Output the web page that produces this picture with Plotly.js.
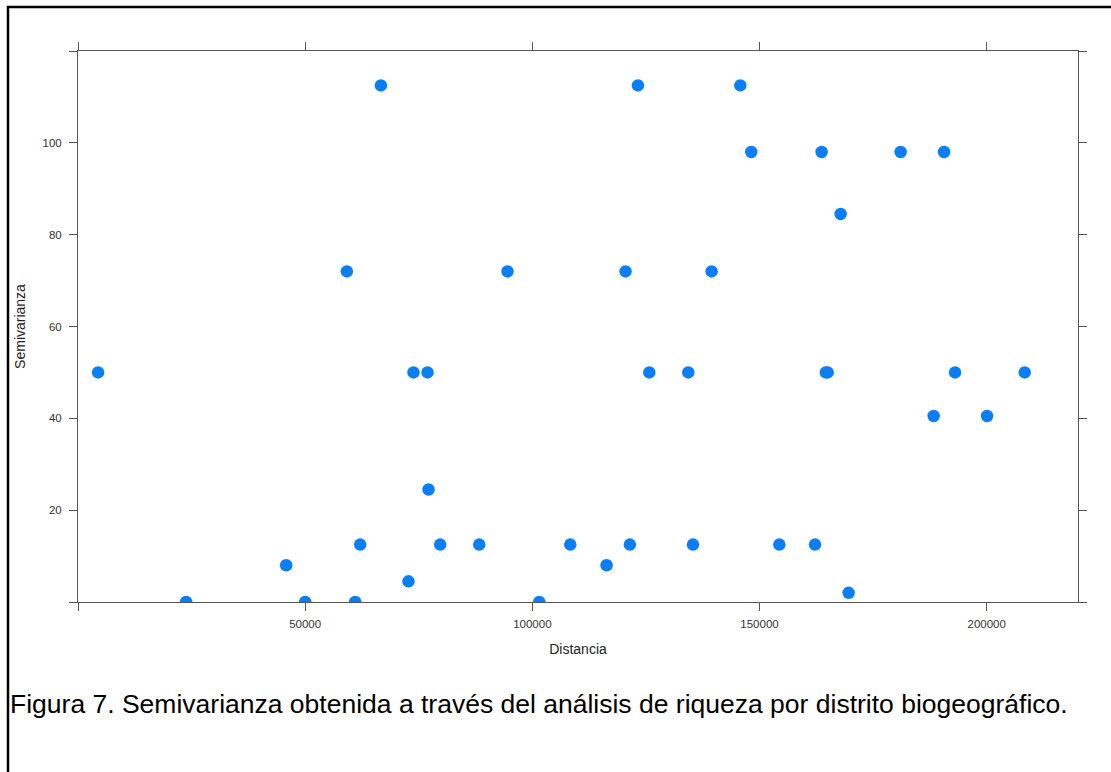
<!DOCTYPE html>
<html>
<head>
<meta charset="utf-8">
<script src="https://cdn.plot.ly/plotly-3.0.1.min.js"></script>
<style>
html,body{margin:0;padding:0;background:#fff;}
#chart{width:1111px;height:772px;}
</style>
</head>
<body>
<div id="chart"></div>
<script>
// Distancia (x) and Semivarianza (y)
const distancia = [
  4425, 23800, 45820, 50000, 59180, 61010, 62110, 66670, 72740, 73840,
  76930, 77150, 79720, 88310, 94540, 101520, 108350, 116340, 120520, 121470,
  123250, 125740, 134320, 135360, 139450, 145770, 148190, 154360, 162220, 163670,
  164600, 165000, 167850, 169620, 181060, 188330, 190620, 193040, 200090, 208370
];
const semivarianza = [
  50, 0, 8, 0, 72, 0, 12.5, 112.5, 4.5, 50,
  50, 24.5, 12.5, 12.5, 72, 0, 12.5, 8, 72, 12.5,
  112.5, 50, 50, 12.5, 72, 112.5, 98, 12.5, 12.5, 98,
  50, 50, 84.5, 2, 98, 40.5, 98, 50, 40.5, 50
];
const xTickVals = [0, 50000, 100000, 150000, 200000];
const xTickText = ['', '50000', '100000', '150000', '200000'];
const yTickVals = [0, 20, 40, 60, 80, 100, 120];
const yTickText = ['', '20', '40', '60', '80', '100', ''];

const xTitle = 'Distancia';
const yTitle = 'Semivarianza';
const caption = 'Figura 7. Semivarianza obtenida a través del análisis de riqueza por distrito biogeográfico.';

const FONT = 'Liberation Sans, Arial, Helvetica, sans-serif';
const axisCommon = {
  showline: true, linecolor: '#555', linewidth: 1,
  mirror: 'ticks', ticks: 'outside', ticklen: 8, tickwidth: 1, tickcolor: '#555',
  showgrid: false, zeroline: false,
  tickfont: {family: FONT, size: 11.5, color: '#333'}
};

const trace = {
  type: 'scatter', mode: 'markers',
  x: distancia, y: semivarianza,
  marker: {size: 12.5, color: '#0a7ff5', line: {width: 0}},
  hoverinfo: 'x+y'
};

const layout = {
  width: 1111, height: 772,
  margin: {l: 78, r: 33, t: 51, b: 170},
  paper_bgcolor: '#fff', plot_bgcolor: '#fff',
  showlegend: false,
  xaxis: Object.assign({}, axisCommon, {
    range: [0, 220100], tickvals: xTickVals, ticktext: xTickText,
    ticklabelstandoff: 3,
    title: {text: xTitle, font: {family: FONT, size: 14, color: '#222'}, standoff: 15}
  }),
  yaxis: Object.assign({}, axisCommon, {
    range: [0, 120], tickvals: yTickVals, ticktext: yTickText,
    ticklabelstandoff: 5,
    title: {text: yTitle, font: {family: FONT, size: 14, color: '#222'}, standoff: 13}
  }),
  shapes: [{
    type: 'rect', xref: 'paper', yref: 'paper',
    x0: -0.07, x1: 1.04, y0: -0.33, y1: 1.0799,
    line: {color: '#000', width: 2.5}, fillcolor: 'rgba(0,0,0,0)'
  }],
  annotations: [{
    text: caption, xref: 'paper', yref: 'paper',
    x: -0.0705, y: -0.185, xanchor: 'left', yanchor: 'middle',
    showarrow: false, font: {family: FONT, size: 26.5, color: '#000'}
  }]
};

Plotly.newPlot('chart', [trace], layout, {displayModeBar: false, staticPlot: true});
</script>
</body>
</html>
